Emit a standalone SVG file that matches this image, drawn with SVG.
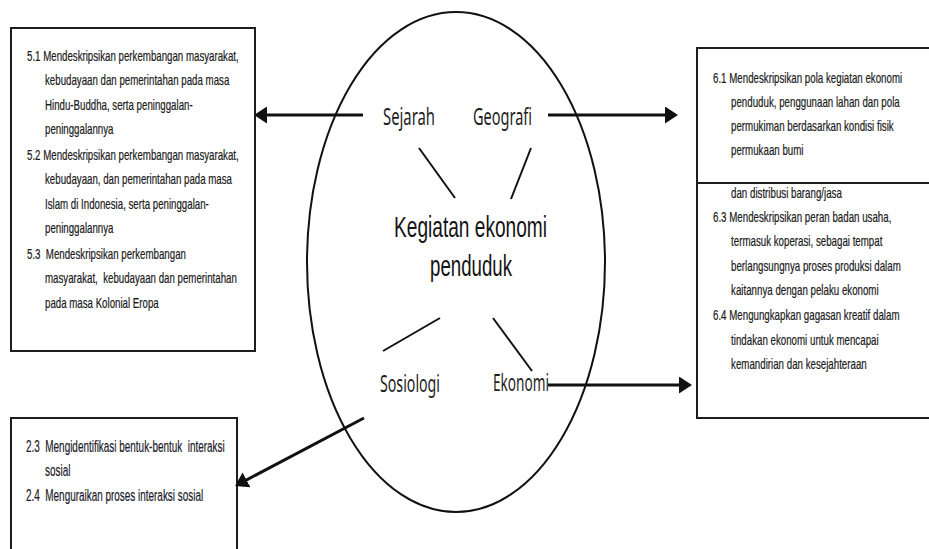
<svg xmlns="http://www.w3.org/2000/svg" width="929" height="549" viewBox="0 0 929 549">
<style>
.box{fill:none;stroke:#1e1e1e;stroke-width:2}
.t{font-family:"Liberation Sans",Arial,sans-serif;font-size:14px;fill:#1a1a1a;stroke:#1a1a1a;stroke-width:0.2;white-space:pre}
.tb{font-family:"Liberation Sans",Arial,sans-serif;font-size:17px;fill:#1a1a2a;stroke:#1a1a2a;stroke-width:0.2;white-space:pre}
.lab{font-family:"Noto Sans","Open Sans",sans-serif;font-size:24px;fill:#1e1e1e}
.ctr{font-family:"Liberation Sans",Arial,sans-serif;font-size:30px;fill:#141414}
.arrow{stroke:#111;stroke-width:3;fill:none;marker-end:url(#ah)}
.spoke{stroke:#111;stroke-width:2;fill:none}
</style>
<defs>
<marker id="ah" viewBox="0 0 13 17" refX="3" refY="8.5" markerWidth="13" markerHeight="17" markerUnits="userSpaceOnUse" orient="auto">
<path d="M0,0 L13,8.5 L0,17 Z" fill="#111"/>
</marker>
</defs>
<rect width="929" height="549" fill="#fff"/>

<g id="center">
<ellipse cx="456" cy="262" rx="149" ry="250" fill="none" stroke="#111" stroke-width="2"/>
<text class="ctr" x="394" y="237" textLength="153" lengthAdjust="spacingAndGlyphs">Kegiatan ekonomi</text>
<text class="ctr" x="430" y="276" textLength="82" lengthAdjust="spacingAndGlyphs">penduduk</text>
</g>

<g id="sejarah"><text class="lab" x="383" y="125" textLength="52" lengthAdjust="spacingAndGlyphs">Sejarah</text></g>
<g id="geografi"><text class="lab" x="473" y="125" textLength="59" lengthAdjust="spacingAndGlyphs">Geografi</text></g>
<g id="sosiologi"><text class="lab" x="380" y="392" textLength="60" lengthAdjust="spacingAndGlyphs">Sosiologi</text></g>
<g id="ekonomi"><text class="lab" x="493" y="391" textLength="56" lengthAdjust="spacingAndGlyphs">Ekonomi</text></g>

<g id="box-sejarah">
<rect class="box" x="11" y="28" width="244" height="323"/>
<g transform="translate(27,0) scale(0.693,1)">
<text class="t" x="0" y="61">5.1 Mendeskripsikan perkembangan masyarakat,</text>
<text class="t" x="26" y="85">kebudayaan dan pemerintahan pada masa</text>
<text class="t" x="26" y="110">Hindu-Buddha, serta peninggalan-</text>
<text class="t" x="26" y="134">peninggalannya</text>
<text class="t" x="0" y="160">5.2 Mendeskripsikan perkembangan masyarakat,</text>
<text class="t" x="26" y="184">kebudayaan, dan pemerintahan pada masa</text>
<text class="t" x="26" y="209">Islam di Indonesia, serta peninggalan-</text>
<text class="t" x="26" y="233">peninggalannya</text>
<text class="t" x="0" y="259">5.3  Mendeskripsikan perkembangan</text>
<text class="t" x="26" y="283">masyarakat,  kebudayaan dan pemerintahan</text>
<text class="t" x="26" y="308">pada masa Kolonial Eropa</text>
</g>
</g>

<g id="box-geografi-ekonomi">
<path class="box" d="M929,48 H697 V418 H929 M697,183 H929"/>
<g transform="translate(713,0) scale(0.695,1)">
<text class="t" x="0" y="83">6.1 Mendeskripsikan pola kegiatan ekonomi</text>
<text class="t" x="26" y="107">penduduk, penggunaan lahan dan pola</text>
<text class="t" x="26" y="131">permukiman berdasarkan kondisi fisik</text>
<text class="t" x="26" y="155">permukaan bumi</text>
<text class="t" x="26" y="198">dan distribusi barang/jasa</text>
<text class="t" x="0" y="222">6.3 Mendeskripsikan peran badan usaha,</text>
<text class="t" x="26" y="246">termasuk koperasi, sebagai tempat</text>
<text class="t" x="26" y="271">berlangsungnya proses produksi dalam</text>
<text class="t" x="26" y="295">kaitannya dengan pelaku ekonomi</text>
<text class="t" x="0" y="320">6.4 Mengungkapkan gagasan kreatif dalam</text>
<text class="t" x="26" y="345">tindakan ekonomi untuk mencapai</text>
<text class="t" x="26" y="369">kemandirian dan kesejahteraan</text>
</g>
</g>

<g id="box-sosiologi">
<path class="box" d="M11,560 V418 H237 V560"/>
<g transform="translate(26,0) scale(0.585,1)">
<text class="tb" x="0" y="452">2.3  Mengidentifikasi bentuk-bentuk  interaksi</text>
<text class="tb" x="32.5" y="476">sosial</text>
<text class="tb" x="0" y="501">2.4  Menguraikan proses interaksi sosial</text>
</g>
</g>

<g id="connectors">
<line class="spoke" x1="419" y1="148" x2="455" y2="198"/>
<line class="spoke" x1="531" y1="148" x2="511" y2="199"/>
<line class="spoke" x1="383" y1="351" x2="440" y2="318"/>
<line class="spoke" x1="493" y1="318" x2="532" y2="371"/>
<line class="arrow" x1="363" y1="115" x2="264" y2="115"/>
<line class="arrow" x1="548" y1="115" x2="668" y2="115"/>
<line class="arrow" x1="548" y1="385" x2="682" y2="385"/>
<line class="arrow" x1="364" y1="418" x2="243.9" y2="481.3"/>
</g>
</svg>
